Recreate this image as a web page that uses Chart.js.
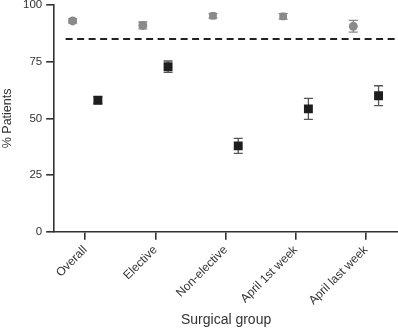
<!DOCTYPE html>
<html>
<head>
<meta charset="utf-8">
<script src="https://cdn.jsdelivr.net/npm/chart.js@4/dist/chart.umd.min.js"></script>
<style>
  body { margin: 0; background: #fff; }
  #wrap { width: 398px; height: 330px; }
</style>
</head>
<body>
<div id="wrap"><canvas id="chart" width="398" height="330"></canvas></div>
<script>
// groups on the x axis
var groups = ["Overall", "Elective", "Non-elective", "April 1st week", "April last week"];
// grey series (upper) and its error bars
var greyVals = [93, 91, 95.2, 95, 90.6];
var greyErr = [1, 1.5, 1, 1.2, 2.6];
// black series (lower) and its error bars
var blackVals = [58, 72.8, 37.9, 54.2, 60];
var blackErr = [1.5, 2.5, 3.3, 4.6, 4.4];
var threshold = 85;
var yTicks = [0, 25, 50, 75, 100];

var shift = 0.18; // side by side offset inside a group

function pts(vals, dx) {
  return vals.map(function(v, i) { return { x: i + 1 + dx, y: v }; });
}

// draws vertical error bars with caps, using the scales
var errorBars = {
  id: 'errorBars',
  beforeDatasetsDraw: function(chart) {
    var ctx = chart.ctx;
    var xs = chart.scales.x, ys = chart.scales.y;
    chart.data.datasets.forEach(function(ds) {
      if (!ds.errors) return;
      ctx.save();
      ctx.strokeStyle = ds.errorColor;
      ctx.lineWidth = 1.3;
      ds.data.forEach(function(p, i) {
        var x = xs.getPixelForValue(p.x);
        var top = ys.getPixelForValue(p.y + ds.errors[i]);
        var bot = ys.getPixelForValue(p.y - ds.errors[i]);
        ctx.beginPath();
        ctx.moveTo(x, top); ctx.lineTo(x, bot);
        ctx.moveTo(x - 4.5, top); ctx.lineTo(x + 4.5, top);
        ctx.moveTo(x - 4.5, bot); ctx.lineTo(x + 4.5, bot);
        ctx.stroke();
      });
      ctx.restore();
    });
  }
};

var axisColor = '#333';
var font = "'Liberation Sans', Arial, sans-serif";

new Chart(document.getElementById('chart'), {
  type: 'scatter',
  data: {
    datasets: [
      {
        data: pts(greyVals, -shift),
        errors: greyErr,
        errorColor: '#888',
        pointStyle: ['circle', 'circle', 'rectRounded', 'rectRounded', 'circle'],
        pointRadius: 4.5,
        backgroundColor: '#8a8a8a',
        borderColor: '#8a8a8a',
        borderWidth: 0
      },
      {
        data: pts(blackVals, shift),
        errors: blackErr,
        errorColor: '#555',
        pointStyle: 'rect',
        pointRadius: 6.3,
        backgroundColor: '#1e1e1e',
        borderColor: '#1e1e1e',
        borderWidth: 0
      },
      {
        type: 'line',
        data: [{ x: 0.72, y: threshold }, { x: 5.46, y: threshold }],
        borderColor: '#222',
        borderWidth: 2,
        borderDash: [7, 4.5],
        pointRadius: 0,
        fill: false
      }
    ]
  },
  options: {
    responsive: false,
    animation: false,
    layout: { autoPadding: false, padding: { top: 5, right: 0, bottom: 3, left: 0 } },
    plugins: { legend: { display: false }, tooltip: { enabled: false } },
    scales: {
      x: {
        type: 'linear',
        min: 0.557,
        max: 5.457,
        afterBuildTicks: function(scale) {
          scale.ticks = groups.map(function(g, i) { return { value: i + 1 }; });
        },
        afterFit: function(scale) { scale.paddingLeft = 0; scale.paddingRight = 0; },
        border: { color: axisColor, width: 1.6 },
        grid: { drawOnChartArea: false, color: axisColor, tickLength: 8, lineWidth: 1.6 },
        ticks: {
          color: '#333',
          font: { family: font, size: 12, lineHeight: 1 },
          minRotation: 45,
          maxRotation: 45,
          padding: 4,
          callback: function(v) { return groups[Math.round(v) - 1]; }
        },
        title: {
          display: true,
          text: 'Surgical group',
          color: '#333',
          font: { family: font, size: 14, lineHeight: 1 },
          padding: { top: 2, bottom: 0 }
        }
      },
      y: {
        min: 0,
        max: 100,
        afterBuildTicks: function(scale) {
          scale.ticks = yTicks.map(function(v) { return { value: v }; });
        },
        afterFit: function(scale) { scale.paddingTop = 0; scale.paddingBottom = 0; },
        border: { color: axisColor, width: 1.6 },
        grid: { drawOnChartArea: false, color: axisColor, tickLength: 8, lineWidth: 1.6 },
        ticks: {
          color: '#333',
          font: { family: font, size: 11.5 },
          padding: 4
        },
        title: {
          display: true,
          text: '% Patients',
          color: '#333',
          font: { family: font, size: 12.5 },
          padding: { top: 0, bottom: 4 }
        }
      }
    }
  },
  plugins: [errorBars]
});
</script>
</body>
</html>
